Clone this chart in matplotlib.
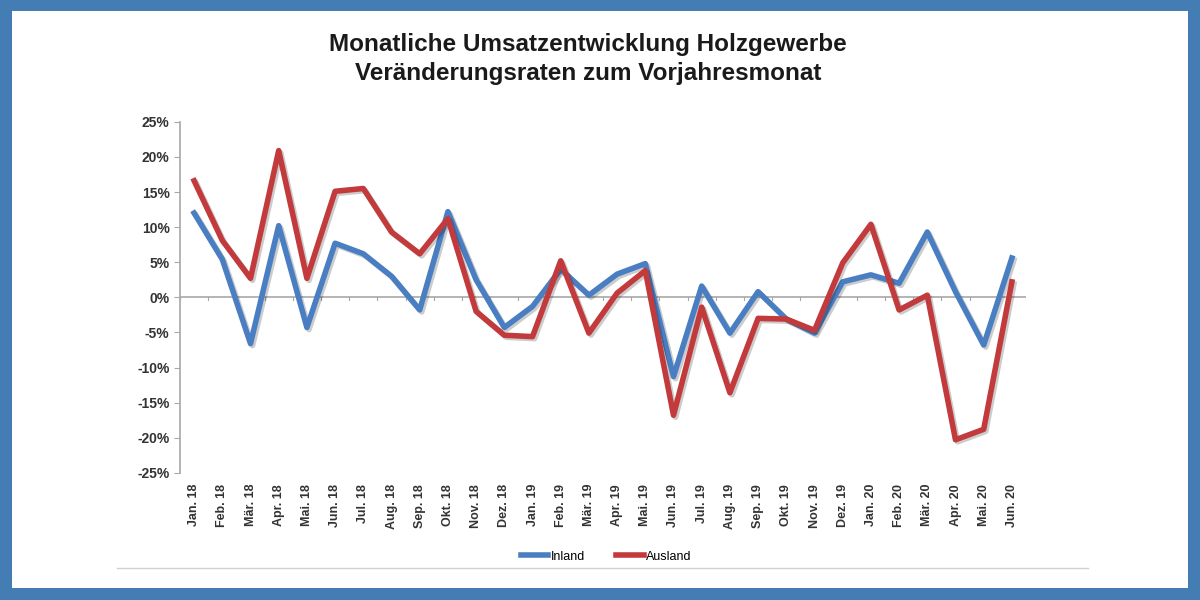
import numpy as np
import matplotlib.pyplot as plt
from matplotlib.patches import Rectangle
from matplotlib.lines import Line2D
import matplotlib.patheffects as pe
from matplotlib.ticker import FuncFormatter, MultipleLocator

plt.rcParams["font.family"] = ["Liberation Sans", "DejaVu Sans"]

# Data
months = ["Jan. 18", "Feb. 18", "Mär. 18", "Apr. 18", "Mai. 18", "Jun. 18",
          "Jul. 18", "Aug. 18", "Sep. 18", "Okt. 18", "Nov. 18", "Dez. 18",
          "Jan. 19", "Feb. 19", "Mär. 19", "Apr. 19", "Mai. 19", "Jun. 19",
          "Jul. 19", "Aug. 19", "Sep. 19", "Okt. 19", "Nov. 19", "Dez. 19",
          "Jan. 20", "Feb. 20", "Mär. 20", "Apr. 20", "Mai. 20", "Jun. 20"]
inland = [12.0, 5.4, -6.6, 10.2, -4.3, 7.7, 6.2, 3.0, -1.8, 12.2, 2.5, -4.3,
          -1.3, 4.0, 0.3, 3.3, 4.8, -11.3, 1.6, -5.1, 0.8, -3.1, -5.1, 2.2,
          3.2, 2.0, 9.3, 0.8, -6.8, 5.6]
ausland = [16.6, 8.1, 2.7, 20.9, 2.7, 15.1, 15.5, 9.3, 6.2, 11.2, -2.0, -5.4,
           -5.6, 5.2, -5.1, 0.6, 3.8, -16.8, -1.4, -13.6, -3.0, -3.1, -4.7, 4.9,
           10.4, -1.8, 0.3, -20.3, -18.8, 2.2]

col_inland = "#4A7EC2"
col_ausland = "#C23A3C"
frame_blue = "#437DB3"

fig = plt.figure(figsize=(12, 6), dpi=100)
fig.patch.set_facecolor(frame_blue)
fig.add_artist(Rectangle((12 / 1200, 12 / 600), 1176 / 1200, 577 / 600,
                         transform=fig.transFigure, facecolor="white",
                         edgecolor="none", zorder=0))

ax = fig.add_axes([0.15, 0.212, 0.705, 0.585])
ax.set_facecolor("none")

x = np.arange(len(months))
shadow = [pe.SimpleLineShadow(offset=(1.5, -1.5), alpha=0.2), pe.Normal()]
ax.plot(x, inland, color=col_inland, lw=4, solid_joinstyle="round",
        path_effects=shadow, zorder=3)
ax.plot(x, ausland, color=col_ausland, lw=4, solid_joinstyle="round",
        path_effects=shadow, zorder=3)

ax.set_xlim(-0.5, len(months) - 0.5)
ax.set_ylim(-25, 25)
ax.yaxis.set_major_locator(MultipleLocator(5))
ax.yaxis.set_major_formatter(FuncFormatter(lambda v, p: f"{v:.0f}%"))

# zero line with small category ticks
ax.axhline(0, color="#A8A8A8", lw=1.2, zorder=2)
for xi in np.arange(-0.5, len(months), 1.0):
    ax.plot([xi, xi], [0, -0.4], color="#A8A8A8", lw=0.8, zorder=2)

for s in ["top", "right", "bottom"]:
    ax.spines[s].set_visible(False)
ax.spines["left"].set_color("#A8A8A8")
ax.spines["left"].set_linewidth(1.2)

ax.set_xticks(x)
ax.set_xticklabels(months, rotation=90, fontsize=9, fontweight="bold",
                   color="#333333")
ax.tick_params(axis="x", length=0, pad=8)
ax.tick_params(axis="y", labelsize=10, colors="#A8A8A8", length=4,
               labelcolor="#333333")
for lbl in ax.get_yticklabels():
    lbl.set_fontweight("bold")

fig.text(0.49, 0.925, "Monatliche Umsatzentwicklung Holzgewerbe",
         ha="center", va="center", fontsize=17.5, fontweight="bold",
         color="#1a1a1a")
fig.text(0.49, 0.878, "Veränderungsraten zum Vorjahresmonat",
         ha="center", va="center", fontsize=17.5, fontweight="bold",
         color="#1a1a1a")

handles = [Line2D([], [], color=col_inland, lw=4),
           Line2D([], [], color=col_ausland, lw=4)]
fig.legend(handles, ["Inland", "Ausland"], loc="center",
           bbox_to_anchor=(0.505, 0.072), ncol=2, frameon=False,
           fontsize=9, handlelength=2.2, handletextpad=0.2, columnspacing=2.5)

# thin frame line under the legend
fig.add_artist(Line2D([117 / 1200, 1088 / 1200], [1 - 568 / 600, 1 - 568 / 600],
                      transform=fig.transFigure, color="#D0D0D0", lw=1))

fig.savefig("out.png", dpi=100, facecolor=fig.get_facecolor())
